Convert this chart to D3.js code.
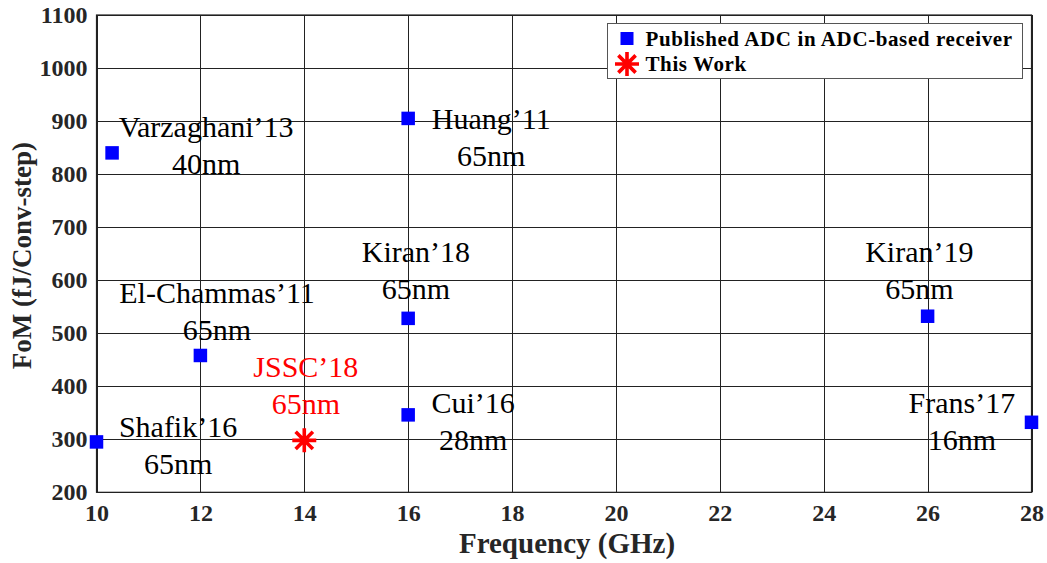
<!DOCTYPE html>
<html>
<head>
<meta charset="utf-8">
<script src="https://cdn.jsdelivr.net/npm/d3@7"></script>
<style>
  body { margin: 0; background: #fff; }
  svg text { font-family: "Liberation Serif", "Times New Roman", serif; }
</style>
</head>
<body>
<svg id="chart" width="1047" height="563"></svg>
<script>
// published ADCs
const names = ["Varzaghani’13", "Huang’11", "Kiran’18", "Kiran’19", "El-Chammas’11", "Cui’16", "Shafik’16", "Frans’17"];
const nodes = ["40nm", "65nm", "65nm", "65nm", "65nm", "28nm", "65nm", "16nm"];
const freq = [10.3, 16, 16, 26, 12, 16, 10, 28];
const fom = [840, 905, 528, 532, 458, 346, 295, 332];

// this work
const workName = ["JSSC’18"];
const workNode = ["65nm"];
const workFreq = [14];
const workFom = [298];

const xTicks = [10, 12, 14, 16, 18, 20, 22, 24, 26, 28];
const yTicks = [200, 300, 400, 500, 600, 700, 800, 900, 1000, 1100];
const legendItems = ["Published ADC in ADC-based receiver", "This Work"];

// where the text labels sit (data units, first-line baseline)
const labelAt = [[12.11, 870], [17.6, 885], [16.15, 634], [25.84, 634], [12.32, 557], [17.25, 349], [11.57, 304], [26.66, 349]];
const workLabelAt = [[14.03, 417]];

const svg = d3.select("#chart");
const m = {left: 96.5, right: 1031.5, top: 15, bottom: 492.3};

const x = d3.scaleLinear().domain([10, 28]).range([m.left, m.right]);
const y = d3.scaleLinear().domain([200, 1100]).range([m.bottom, m.top]);

// grid
const grid = svg.append("g").attr("stroke", "#222").attr("stroke-width", 1);
grid.selectAll(".gx").data(xTicks).join("line")
    .attr("x1", d => Math.round(x(d)) + 0.5).attr("x2", d => Math.round(x(d)) + 0.5)
    .attr("y1", m.top).attr("y2", m.bottom);
grid.selectAll(".gy").data(yTicks).join("line")
    .attr("y1", d => Math.round(y(d)) + 0.5).attr("y2", d => Math.round(y(d)) + 0.5)
    .attr("x1", m.left).attr("x2", m.right);

// axes
const xAxis = svg.append("g")
    .attr("transform", `translate(0,${m.bottom})`)
    .call(d3.axisBottom(x).tickValues(xTicks).tickFormat(d3.format("d")).tickSize(0).tickPadding(12));
const yAxis = svg.append("g")
    .attr("transform", `translate(${m.left},0)`)
    .call(d3.axisLeft(y).tickValues(yTicks).tickFormat(d3.format("d")).tickSize(0).tickPadding(9));
[xAxis, yAxis].forEach(a => {
    a.select(".domain").remove();
    a.selectAll("text")
        .attr("fill", "#262626")
        .style("font-family", "'Liberation Serif', serif")
        .style("font-weight", "bold")
        .style("font-size", "24px");
});

// plot box
svg.append("rect")
    .attr("x", m.left).attr("y", m.top)
    .attr("width", m.right - m.left).attr("height", m.bottom - m.top)
    .attr("fill", "none").attr("stroke", "#222").attr("stroke-width", 1.2);

// axis titles
svg.append("text")
    .attr("x", (m.left + m.right) / 2 + 3).attr("y", 553)
    .attr("text-anchor", "middle")
    .attr("font-weight", "bold").attr("font-size", 29).attr("fill", "#262626")
    .text("Frequency (GHz)");
svg.append("text")
    .attr("transform", `translate(31,${(m.top + m.bottom) / 2 + 2}) rotate(-90)`)
    .attr("text-anchor", "middle")
    .attr("font-weight", "bold").attr("font-size", 27).attr("fill", "#262626")
    .text("FoM (fJ/Conv-step)");

// labels
function drawLabels(nm, nd, at, color) {
    const g = svg.append("g").attr("fill", color).attr("font-size", 30).attr("text-anchor", "middle");
    const t = g.selectAll("text").data(nm).join("text")
        .attr("x", (d, i) => x(at[i][0]))
        .attr("y", (d, i) => y(at[i][1]));
    t.append("tspan").text(d => d);
    t.append("tspan")
        .attr("x", (d, i) => x(at[i][0]))
        .attr("dy", 37)
        .text((d, i) => nd[i]);
}
drawLabels(names, nodes, labelAt, "#000");
drawLabels(workName, workNode, workLabelAt, "#ff0000");

// markers
const sq = 13.5;
svg.append("g").selectAll("rect").data(freq).join("rect")
    .attr("x", (d, i) => x(d) - sq / 2)
    .attr("y", (d, i) => y(fom[i]) - sq / 2)
    .attr("width", sq).attr("height", sq)
    .attr("fill", "#0000ff");

function star(cx, cy, r) {
    const k = r * 0.72;
    return `M${cx - r},${cy}H${cx + r}M${cx},${cy - r}V${cy + r}` +
        `M${cx - k},${cy - k}L${cx + k},${cy + k}M${cx - k},${cy + k}L${cx + k},${cy - k}`;
}
svg.append("g").selectAll("path").data(workFreq).join("path")
    .attr("d", (d, i) => star(x(d), y(workFom[i]), 12))
    .attr("stroke", "#ff0000").attr("stroke-width", 3.6).attr("fill", "none");

// legend
const lg = svg.append("g");
lg.append("rect")
    .attr("x", 607.5).attr("y", 23.5).attr("width", 415).attr("height", 55)
    .attr("fill", "#fff").attr("stroke", "#555").attr("stroke-width", 1);
const rowY = [38.5, 64];
lg.append("rect")
    .attr("x", 627 - 6.5).attr("y", rowY[0] - 6.5).attr("width", 13).attr("height", 13)
    .attr("fill", "#0000ff");
lg.append("path")
    .attr("d", star(627, rowY[1], 12))
    .attr("stroke", "#ff0000").attr("stroke-width", 3.6).attr("fill", "none");
lg.selectAll("text.leg").data(legendItems).join("text")
    .attr("x", 645.5)
    .attr("y", (d, i) => rowY[i] + 7)
    .attr("font-weight", "bold").attr("font-size", 21)
    .attr("letter-spacing", 0.6)
    .attr("fill", "#000")
    .text(d => d);
</script>
</body>
</html>
